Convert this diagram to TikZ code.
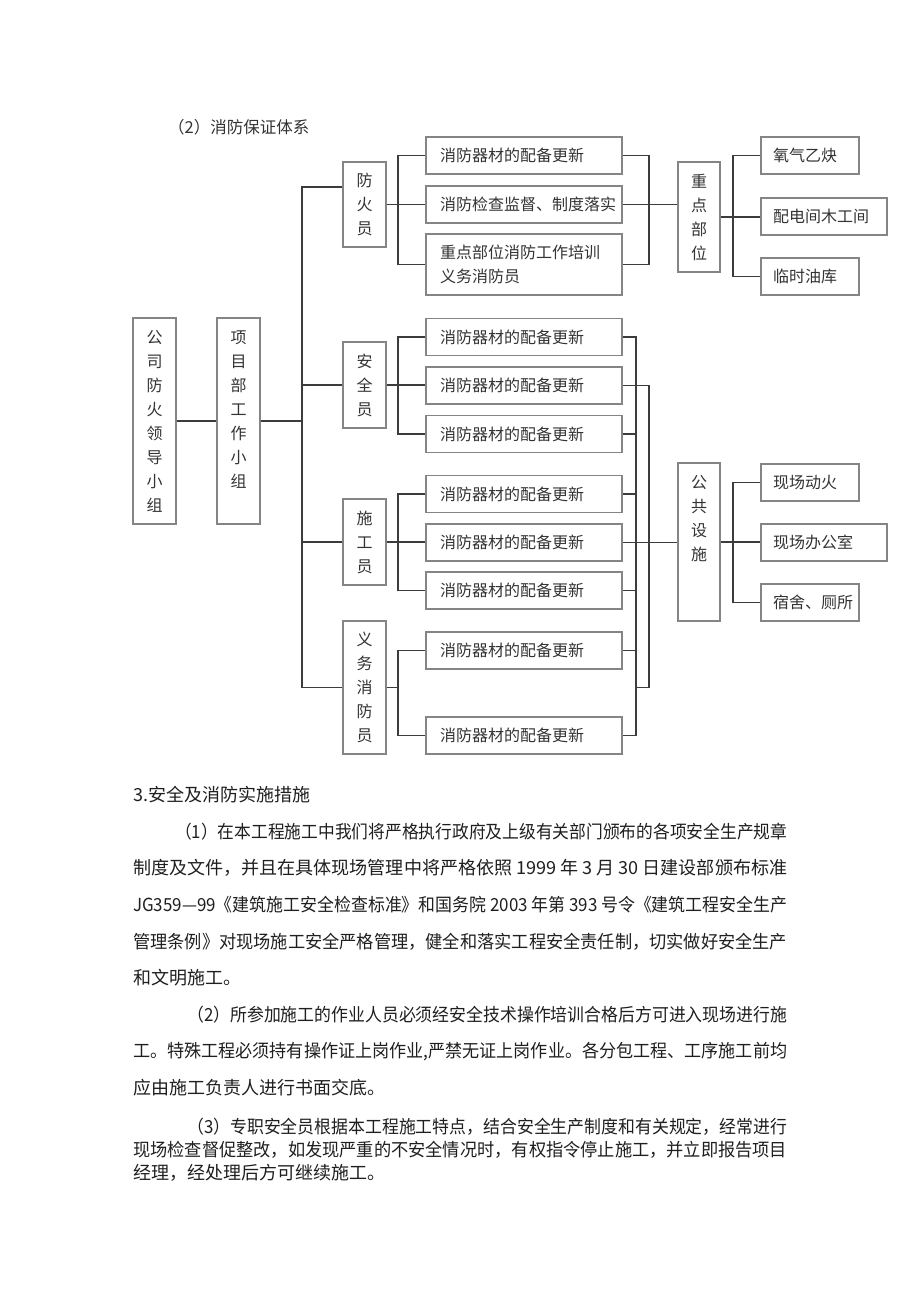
\documentclass[tikz,border=0pt]{standalone}
\usepackage{fontspec}
\setmainfont{Noto Sans CJK SC}
\usepackage{graphicx}
\definecolor{linegray}{HTML}{3C3C3C}
\definecolor{boxgray}{HTML}{858585}
\definecolor{textgray}{HTML}{333333}
% one printed line of running text, stretched to the column
\newcommand{\jline}[2]{\resizebox{#1}{\height}{#2}}

\begin{document}
\begin{tikzpicture}
[x=1pt,y=-1pt,
 every node/.style={inner sep=0pt,text=textgray},
 box/.style={draw=boxgray,line width=1.1pt},
 vbox/.style={box,minimum width=43,align=center,font=\fontsize{16}{24}\selectfont},
 mbox/.style={box,minimum width=196,minimum height=37,text width=168,align=left,font=\fontsize{16}{24}\selectfont},
 rbox/.style={box,minimum height=37,align=left,font=\fontsize{16}{24}\selectfont},
 link/.style={draw=linegray,line width=1.5pt},
 para/.style={anchor=west,text=black!88,font=\fontsize{18}{22}\selectfont}]
   \fill[white] (0,0) rectangle (920,1301);
   \useasboundingbox (0,0) rectangle (920,1301);

   \node[anchor=west,font=\fontsize{16.5}{20}\selectfont] (title) at (168,127) {（2）消防保证体系};

   % left column
   \node[vbox,minimum height=206] (lead) at (154.5,421) {公\\司\\防\\火\\领\\导\\小\\组};
   \node[vbox,minimum height=206] (proj) at (238.5,421) {项\\目\\部\\工\\作\\小\\组\\\mbox{}};

   % staff
   \node[vbox,minimum height=85]  (fhy) at (364.5,204.5) {防\\火\\员};
   \node[vbox,minimum height=86]  (aqy) at (364.5,385)   {安\\全\\员};
   \node[vbox,minimum height=86]  (sgy) at (364.5,542)   {施\\工\\员};
   \node[vbox,minimum height=133] (yw)  at (364.5,687.5) {义\\务\\消\\防\\员};

   % duties
   \node[mbox] (f1) at (524,155.5) {消防器材的配备更新};
   \node[mbox] (f2) at (524,204.5) {消防检查监督、制度落实};
   \node[mbox,minimum height=61] (f3) at (524,264.5) {重点部位消防工作培训\\义务消防员};
   \node[mbox] (a1) at (524,337)   {消防器材的配备更新};
   \node[mbox] (a2) at (524,385.5) {消防器材的配备更新};
   \node[mbox] (a3) at (524,434)   {消防器材的配备更新};
   \node[mbox] (s1) at (524,494)   {消防器材的配备更新};
   \node[mbox] (s2) at (524,542.5) {消防器材的配备更新};
   \node[mbox] (s3) at (524,590.5) {消防器材的配备更新};
   \node[mbox] (w1) at (524,650.5) {消防器材的配备更新};
   \node[mbox] (w2) at (524,735.5) {消防器材的配备更新};

   % places
   \node[vbox,minimum width=42,minimum height=110] (zdbw) at (699,217) {重\\点\\部\\位};
   \node[vbox,minimum width=42,minimum height=158] (ggss) at (699,542) {公\\共\\设\\施\\\mbox{}\\\mbox{}};
   \node[rbox,minimum width=98,text width=74]   (o1) at (810,155.5) {氧气乙炔};
   \node[rbox,minimum width=126,text width=102] (o2) at (824,216.5) {配电间木工间};
   \node[rbox,minimum width=98,text width=74]   (o3) at (810,276.5) {临时油库};
   \node[rbox,minimum width=98,text width=74]   (g1) at (810,482.5) {现场动火};
   \node[rbox,minimum width=126,text width=102] (g2) at (824,542.5) {现场办公室};
   \node[rbox,minimum width=98,text width=74]   (g3) at (810,602.5) {宿舍、厕所};

   \coordinate (bus) at (302,0);
   \coordinate (lb)  at (398,0);
   \coordinate (rb1) at (636,0);
   \coordinate (rb2) at (649,0);
   \coordinate (rc)  at (733,0);

   \draw[link] (lead) -- (proj);
   \draw[link] (proj.east) -- (proj.east -| bus);
   \draw[link] ([yshift=17.5pt]fhy.west) -| (bus |- yw.west) -- (yw.west);
   \draw[link] (aqy.west) -- (aqy.west -| bus);
   \draw[link] (sgy.west) -- (sgy.west -| bus);

   \draw[link] (fhy.east) -- (fhy.east -| f2.west);
   \draw[link] (f1.west) -| (lb |- f3.west) -- (f3.west);
   \draw[link] (aqy.east) -- (aqy.east -| a2.west);
   \draw[link] (a1.west) -| (lb |- a3.west) -- (a3.west);
   \draw[link] (sgy.east) -- (sgy.east -| s2.west);
   \draw[link] (s1.west) -| (lb |- s3.west) -- (s3.west);
   \draw[link] (yw.east) -- (yw.east -| lb);
   \draw[link] (w1.west) -| (lb |- w2.west) -- (w2.west);

   \draw[link] (f1.east) -| (rb2 |- f3.east) -- (f3.east);
   \draw[link] (f2.east) -- (f2.east -| zdbw.west);
   \draw[link] (a1.east) -| (rb1 |- w2.east) -- (w2.east);
   \foreach \n in {a3,s1,s3,w1}
     \draw[link] (\n.east) -- (\n.east -| rb1);
   \draw[link] (a2.east) -| (rb2 |- yw.east) -- (rb1 |- yw.east);
   \draw[link] (s2.east) -- (s2.east -| ggss.west);

   \draw[link] (zdbw.east) -- (zdbw.east -| o2.west);
   \draw[link] (o1.west) -| (rc |- o3.west) -- (o3.west);
   \draw[link] (ggss.east) -- (ggss.east -| g2.west);
   \draw[link] (g1.west) -| (rc |- g3.west) -- (g3.west);

   % text below the chart
   \node[para] (h3)  at (133,795)  {3.安全及消防实施措施};
   \node[para] (l1)  at (175,832)  {\jline{612pt}{（1）在本工程施工中我们将严格执行政府及上级有关部门颁布的各项安全生产规章}};
   \node[para] (l2)  at (133,868)  {\jline{654pt}{制度及文件，并且在具体现场管理中将严格依照 1999 年 3 月 30 日建设部颁布标准}};
   \node[para] (l3)  at (133,905)  {\jline{654pt}{JG359—99《建筑施工安全检查标准》和国务院 2003 年第 393 号令《建筑工程安全生产}};
   \node[para] (l4)  at (133,942)  {\jline{654pt}{管理条例》对现场施工安全严格管理，健全和落实工程安全责任制，切实做好安全生产}};
   \node[para] (l5)  at (133,978)  {和文明施工。};
   \node[para] (l6)  at (187,1015) {\jline{600pt}{（2）所参加施工的作业人员必须经安全技术操作培训合格后方可进入现场进行施}};
   \node[para] (l7)  at (133,1052) {\jline{654pt}{工。特殊工程必须持有操作证上岗作业,严禁无证上岗作业。各分包工程、工序施工前均}};
   \node[para] (l8)  at (133,1088) {应由施工负责人进行书面交底。};
   \node[para] (l9)  at (187,1127) {\jline{600pt}{（3）专职安全员根据本工程施工特点，结合安全生产制度和有关规定，经常进行}};
   \node[para] (l10) at (133,1150) {\jline{654pt}{现场检查督促整改，如发现严重的不安全情况时，有权指令停止施工，并立即报告项目}};
   \node[para] (l11) at (133,1173) {经理，经处理后方可继续施工。};
\end{tikzpicture}
\end{document}
